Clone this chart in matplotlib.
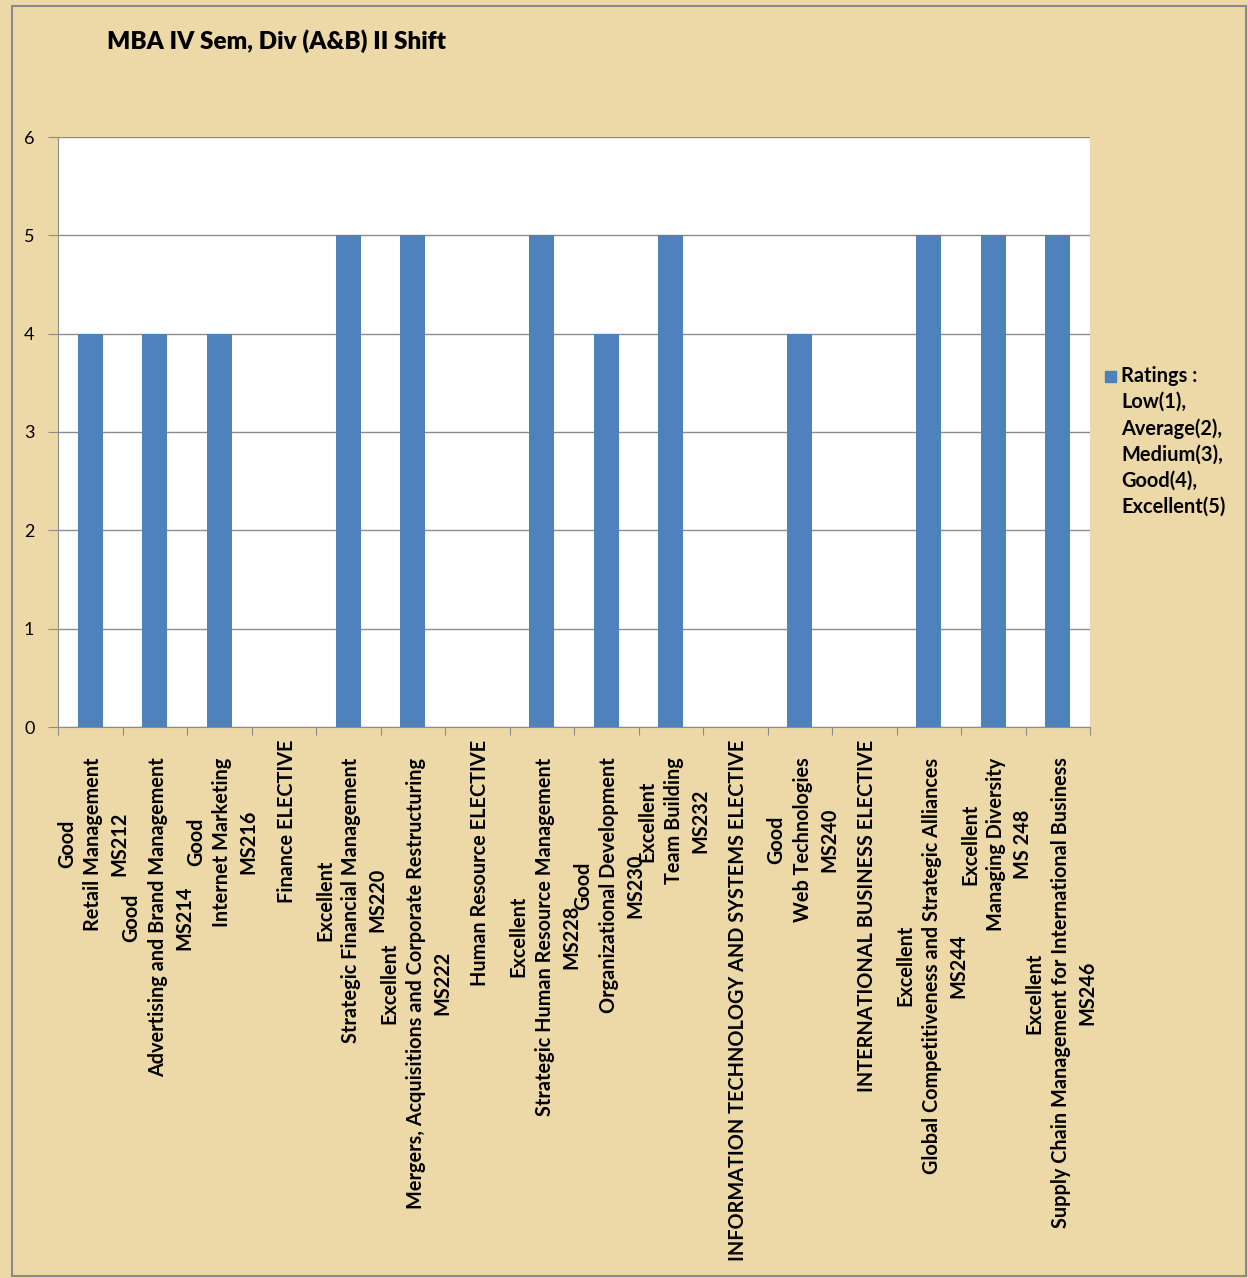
import matplotlib
matplotlib.use('Agg')
import matplotlib.pyplot as plt
from matplotlib.patches import Rectangle

# data
cats = [
    "Good\nRetail Management\nMS212",
    "Good\nAdvertising and Brand Management\nMS214",
    "Good\nInternet Marketing\nMS216",
    "Finance ELECTIVE",
    "Excellent\nStrategic Financial Management\nMS220",
    "Excellent\nMergers, Acquisitions and Corporate Restructuring\nMS222",
    "Human Resource ELECTIVE",
    "Excellent\nStrategic Human Resource Management\nMS228",
    "Good\nOrganizational Development\nMS230",
    "Excellent\nTeam Building\nMS232",
    "INFORMATION TECHNOLOGY AND SYSTEMS ELECTIVE",
    "Good\nWeb Technologies\nMS240",
    "INTERNATIONAL BUSINESS ELECTIVE",
    "Excellent\nGlobal Competitiveness and Strategic Alliances\nMS244",
    "Excellent\nManaging Diversity\nMS 248",
    "Excellent\nSupply Chain Management for International Business\nMS246",
]
vals = [4, 4, 4, 0, 5, 5, 0, 5, 4, 5, 0, 4, 0, 5, 5, 5]
yticks = [0, 1, 2, 3, 4, 5, 6]
title = "MBA IV Sem, Div (A&B) II Shift"
legend_txt = "Ratings :\nLow(1),\nAverage(2),\nMedium(3),\nGood(4),\nExcellent(5)"

bg = '#ecd9a7'
bar_col = '#4f81bd'
lbl_font = ['Lato', 'DejaVu Sans']

fig = plt.figure(figsize=(12.48, 12.78), dpi=100)
fig.patch.set_facecolor(bg)
fig.patches.append(Rectangle((12/1248, 2/1278), 1234/1248, 1270/1278,
                             transform=fig.transFigure, fill=False,
                             edgecolor='#8a8a8a', linewidth=1.5))

ax = fig.add_axes([58/1248, 1 - 727/1278, 1032/1248, 590/1278])
ax.set_facecolor('white')
x = list(range(len(cats)))
ax.bar(x, vals, width=0.39, color=bar_col, zorder=3)
ax.set_xlim(-0.5, len(cats) - 0.5)
ax.set_ylim(0, 6)
ax.set_yticks(yticks)
ax.set_yticklabels([str(t) for t in yticks], fontsize=13, family=lbl_font)
ax.grid(axis='y', color='#8c8c8c', linewidth=1, zorder=0)
for s in ['top', 'right']:
    ax.spines[s].set_visible(False)
ax.spines['left'].set_color('#8c8c8c')
ax.spines['bottom'].set_color('#8c8c8c')
ax.tick_params(axis='y', length=7, color='#8c8c8c', pad=10)
ax.set_xticks([i - 0.5 for i in range(len(cats) + 1)])
ax.set_xticklabels([])
ax.tick_params(axis='x', length=6, color='#8c8c8c')

for i, c in enumerate(cats):
    off = -22 if '\n' in c else -9
    ax.annotate(c, xy=(i, 0), xycoords=('data', 'axes fraction'),
                xytext=(2.2, off), textcoords='offset points',
                rotation=90, ha='center', va='top', multialignment='center',
                fontsize=14.3, fontweight='bold', family=lbl_font,
                linespacing=1.39)

fig.text(107/1248, 1 - 41/1278, title, fontsize=17.5, fontweight='heavy',
         family=lbl_font, va='center', ha='left')

fig.patches.append(Rectangle((1105/1248, 1 - 382/1278), 11/1248, 11/1278,
                             transform=fig.transFigure, color=bar_col))
fig.text(1121/1248, 1 - 366/1278, legend_txt, fontsize=14.4, fontweight='bold',
         family=lbl_font, va='top', ha='left', linespacing=1.37)

fig.savefig('out.png', dpi=100, facecolor=bg)
